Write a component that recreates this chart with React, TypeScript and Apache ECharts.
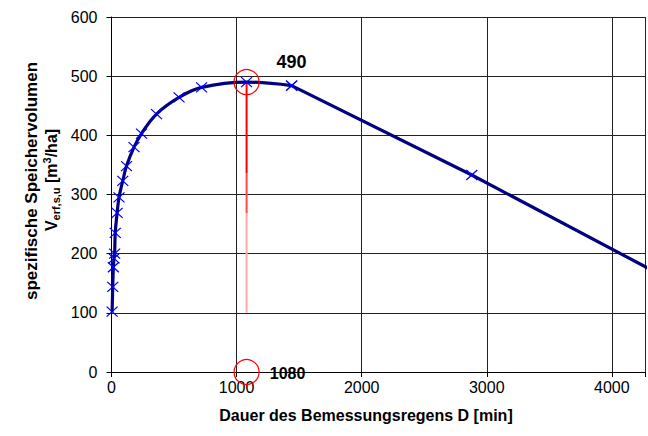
import React, { useEffect, useRef } from "react";
import * as echarts from "echarts";

const durations = [5, 10, 15, 20, 25, 30, 45, 60, 90, 120, 180, 240, 360, 540, 720, 1080, 1440, 2880, 4320];
const volumes = [102, 144, 177, 192, 200, 235, 269, 295, 323, 348, 380, 403, 436, 464, 481, 490, 484, 333, 172];
const curvedCount = 17; // points up to 1440 drawn smoothed, the rest straight
const peakDuration = 1080;
const peakVolume = 490;
// red drop line from the peak down: bands of fading red
const dropLevels = [490, 336, 268, 100];
const dropColors = ["#ff0000", "#ff4a4a", "#ffaaaa"];
const xTitle = "Dauer des Bemessungsregens D [min]";
const yTitle1 = "spezifische Speichervolumen";

export default function App() {
  const ref = useRef<HTMLDivElement>(null);
  useEffect(() => {
    if (!ref.current) return;
    const chart = echarts.init(ref.current, null, { renderer: "svg" });
    const font = "Liberation Sans, Arial, sans-serif";
    const points = durations.map((d, i) => [d, volumes[i]]);
    const crossSymbol = "path://M0,0L10,10M10,0L0,10";
    const dropSeries = dropColors.map((c, i) => ({
      type: "line",
      z: 1,
      data: [
        [peakDuration, dropLevels[i]],
        [peakDuration, dropLevels[i + 1]],
      ],
      symbol: "none",
      lineStyle: { width: 2, color: c },
    }));
    const option: any = {
      animation: false,
      textStyle: { fontFamily: font },
      grid: { left: 111.5, top: 17, right: -3, bottom: 64 },
      xAxis: {
        type: "value",
        min: 0,
        max: 4265,
        interval: 1000,
        axisLine: { show: true, lineStyle: { color: "#000", width: 1 } },
        axisTick: { show: true, length: 5, inside: false, lineStyle: { color: "#000" } },
        splitLine: { show: true, lineStyle: { color: "#222", width: 1 } },
        axisLabel: {
          color: "#000",
          fontSize: 16,
          margin: 7,
          fontFamily: font,
          formatter: (v: number) => (v % 1000 === 0 ? String(v) : ""),
        },
      },
      yAxis: {
        type: "value",
        min: 0,
        max: 600,
        interval: 100,
        axisLine: { show: true, lineStyle: { color: "#000", width: 1 } },
        axisTick: { show: true, length: 5, lineStyle: { color: "#000" } },
        splitLine: { show: true, lineStyle: { color: "#222", width: 1 } },
        axisLabel: { color: "#000", fontSize: 16, margin: 14, fontFamily: font },
      },
      graphic: [
        {
          type: "text",
          x: 366,
          y: 415,
          style: {
            text: xTitle,
            font: `bold 16px ${font}`,
            fill: "#000",
            align: "center",
            verticalAlign: "middle",
          },
        },
        {
          type: "text",
          x: 31,
          y: 181,
          rotation: Math.PI / 2,
          style: {
            text: yTitle1,
            font: `bold 17px ${font}`,
            fill: "#000",
            align: "center",
            verticalAlign: "middle",
          },
        },
        {
          type: "text",
          x: 51,
          y: 180,
          rotation: Math.PI / 2,
          style: {
            text: "{b|V}{s|erf,s,u}{b| [m}{p|3}{b|/ha]}",
            fill: "#000",
            align: "center",
            verticalAlign: "middle",
            rich: {
              b: { fontFamily: font, fontWeight: "bold", fontSize: 16, lineHeight: 20 },
              s: { fontFamily: font, fontWeight: "bold", fontSize: 11, lineHeight: 11, verticalAlign: "bottom" },
              p: { fontFamily: font, fontWeight: "bold", fontSize: 11, lineHeight: 11, verticalAlign: "top" },
            },
          },
        },
      ],
      series: [
        ...dropSeries,
        {
          type: "line",
          z: 2,
          data: points.slice(0, curvedCount),
          smooth: 0.4,
          symbol: crossSymbol,
          symbolSize: [11, 10],
          showAllSymbol: true,
          lineStyle: { color: "#000080", width: 3.2 },
          itemStyle: { color: "none", borderColor: "#0000ff", borderWidth: 1.2 },
        },
        {
          type: "line",
          z: 2,
          data: points.slice(curvedCount - 1),
          smooth: false,
          symbol: crossSymbol,
          symbolSize: [11, 10],
          showAllSymbol: true,
          lineStyle: { color: "#000080", width: 3.2 },
          itemStyle: { color: "none", borderColor: "#0000ff", borderWidth: 1.2 },
        },
        {
          type: "scatter",
          z: 3,
          clip: false,
          symbol: "circle",
          symbolSize: 25,
          itemStyle: { color: "none", borderColor: "#ff0000", borderWidth: 1.2, opacity: 1 },
          data: [
            {
              value: [peakDuration, peakVolume],
              label: {
                show: true,
                position: "inside",
                offset: [45, -20],
                formatter: String(peakVolume),
                fontSize: 18,
                fontWeight: "bold",
                color: "#000",
                fontFamily: font,
              },
            },
            {
              value: [peakDuration, 0],
              label: {
                show: true,
                position: "inside",
                offset: [41, 1],
                formatter: String(peakDuration),
                fontSize: 16,
                fontWeight: "bold",
                color: "#000",
                fontFamily: font,
              },
            },
          ],
        },
      ],
    };
    chart.setOption(option);
    return () => chart.dispose();
  }, []);
  return <div ref={ref} style={{ width: 648, height: 436, position: "absolute", left: 0, top: 0 }} />;
}
